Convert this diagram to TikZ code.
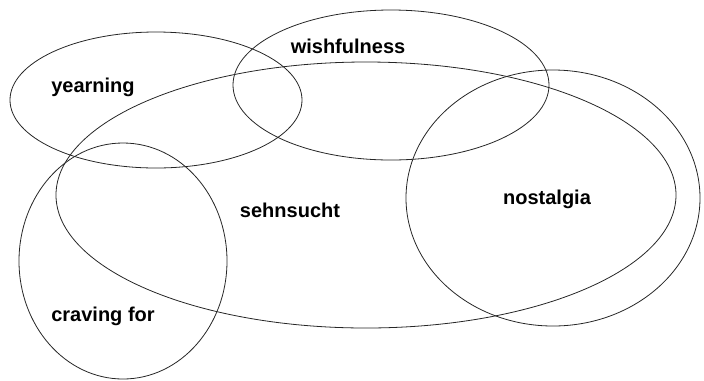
\documentclass[tikz,border=0pt]{standalone}
\usepackage{fontspec}
\setmainfont{Liberation Sans}
\usetikzlibrary{shapes.geometric}

\tikzset{
	wordset/.style={draw, ellipse, inner sep=0pt, line width=0.6pt, draw=black!85},
	wordname/.style={font=\bfseries\fontsize{15}{18}\selectfont, inner sep=0pt}
}

\begin{document}
\begin{tikzpicture}[x=0.75pt,y=-0.75pt]
	\useasboundingbox (0,0) rectangle (704,380);
	\node[wordset, minimum width=219pt, minimum height=102pt] (yearn) at (156,100) {};
	\node[wordset, minimum width=237pt, minimum height=112.5pt] (wish) at (391,85) {};
	\node[wordset, minimum width=465pt, minimum height=199.5pt] (sehn) at (366,195) {};
	\node[wordset, minimum width=220.5pt, minimum height=192pt] (nost) at (553,198) {};
	\node[wordset, minimum width=156pt, minimum height=177pt] (crav) at (123,261) {};
	\node[wordname] (yearnlabel) at (93,87) {yearning};
	\node[wordname] (wishlabel) at (348,46) {wishfulness};
	\node[wordname] (sehnlabel) at (290,210) {sehnsucht};
	\node[wordname] (nostlabel) at (547,199) {nostalgia};
	\node[wordname] (cravlabel) at (103,316) {craving for};
\end{tikzpicture}
\end{document}
